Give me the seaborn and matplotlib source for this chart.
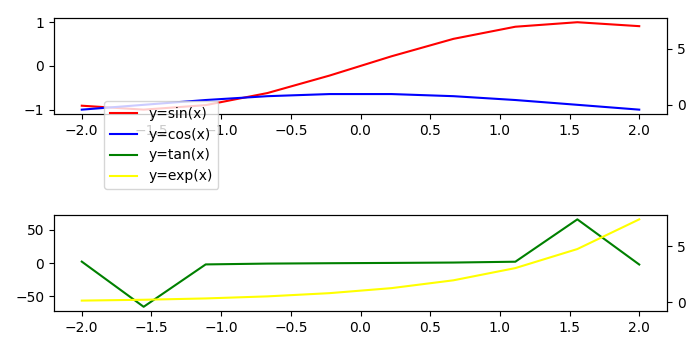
import matplotlib
matplotlib.use("Agg")
import matplotlib.pyplot as plt
import seaborn as sns
import pandas as pd

x = [-2.0, -1.556, -1.111, -0.667, -0.222, 0.222, 0.667, 1.111, 1.556, 2.0]
sin_y = [-0.909, -0.999, -0.896, -0.619, -0.220, 0.220, 0.619, 0.896, 0.999, 0.909]
cos_y = [-0.416, 0.015, 0.443, 0.786, 0.975, 0.975, 0.786, 0.443, 0.015, -0.416]
tan_y = [2.185, -65.6, -2.02, -0.787, -0.226, 0.226, 0.787, 2.02, 65.6, -2.185]
exp_y = [0.135, 0.211, 0.329, 0.513, 0.801, 1.249, 1.948, 3.038, 4.739, 7.389]

df = pd.DataFrame({"x": x, "sin": sin_y, "cos": cos_y, "tan": tan_y, "exp": exp_y})

fig, (ax1, ax2) = plt.subplots(2, 1, figsize=(7, 3.5), dpi=100)
ax1r = ax1.twinx()
ax2r = ax2.twinx()
ax1r.sharey(ax2r)

sns.lineplot(data=df, x="x", y="sin", ax=ax1, color="red", label="y=sin(x)", legend=False)
sns.lineplot(data=df, x="x", y="cos", ax=ax1r, color="blue", label="y=cos(x)", legend=False)
sns.lineplot(data=df, x="x", y="tan", ax=ax2, color="green", label="y=tan(x)", legend=False)
sns.lineplot(data=df, x="x", y="exp", ax=ax2r, color="yellow", label="y=exp(x)", legend=False)

for a in (ax1, ax1r, ax2, ax2r):
    a.set_xlabel("")
    a.set_ylabel("")

ax1r.set_yticks([0, 5])
ax2r.set_yticks([0, 5])
ax1.set_yticks([-1, 0, 1])
ax2.set_yticks([-50, 0, 50])

fig.subplots_adjust(left=0.077, right=0.953, top=0.949, bottom=0.111, hspace=1.05)

handles, labels = [], []
for a in (ax1, ax1r, ax2, ax2r):
    h, l = a.get_legend_handles_labels()
    handles += h
    labels += l
fig.legend(handles, labels, loc="upper left", bbox_to_anchor=(104 / 700, 1 - 101 / 350),
           bbox_transform=fig.transFigure, borderaxespad=0)

fig.savefig("out.png", dpi=100)
